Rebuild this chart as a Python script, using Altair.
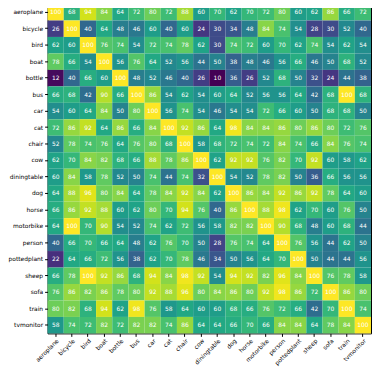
import altair as alt
import pandas as pd

classes = ["aeroplane", "bicycle", "bird", "boat", "bottle", "bus", "car", "cat",
           "chair", "cow", "diningtable", "dog", "horse", "motorbike", "person",
           "pottedplant", "sheep", "sofa", "train", "tvmonitor"]

r_aeroplane = [100, 68, 94, 84, 64, 72, 80, 72, 88, 60, 70, 62, 70, 72, 80, 60, 62, 86, 66, 72]
r_bicycle = [26, 100, 40, 64, 48, 46, 60, 40, 60, 24, 30, 34, 48, 84, 74, 54, 28, 30, 52, 40]
r_bird = [62, 60, 100, 76, 74, 54, 72, 74, 78, 62, 30, 74, 72, 60, 70, 62, 74, 54, 62, 54]
r_boat = [78, 66, 54, 100, 56, 76, 64, 52, 56, 44, 50, 38, 48, 46, 56, 66, 46, 50, 68, 52]
r_bottle = [12, 40, 66, 60, 100, 48, 52, 46, 40, 26, 10, 36, 26, 52, 68, 50, 32, 24, 44, 38]
r_bus = [66, 68, 42, 90, 66, 100, 86, 54, 62, 54, 60, 64, 52, 56, 56, 64, 42, 68, 100, 68]
r_car = [54, 60, 64, 84, 50, 80, 100, 56, 74, 54, 46, 54, 54, 72, 66, 60, 50, 68, 68, 50]
r_cat = [72, 86, 92, 64, 86, 66, 84, 100, 92, 86, 64, 98, 84, 84, 86, 80, 86, 80, 72, 76]
r_chair = [52, 78, 74, 76, 64, 76, 80, 68, 100, 58, 68, 72, 74, 72, 84, 74, 66, 84, 76, 74]
r_cow = [62, 70, 84, 82, 68, 66, 88, 78, 86, 100, 62, 92, 92, 76, 82, 70, 92, 60, 58, 62]
r_diningtable = [60, 84, 58, 78, 52, 50, 74, 44, 74, 32, 100, 54, 52, 78, 82, 50, 36, 66, 56, 56]
r_dog = [64, 88, 96, 80, 84, 64, 78, 84, 92, 84, 62, 100, 86, 84, 92, 86, 92, 78, 64, 60]
r_horse = [66, 86, 92, 88, 60, 62, 80, 70, 94, 76, 40, 86, 100, 88, 98, 62, 70, 60, 76, 50]
r_motorbike = [64, 100, 70, 90, 54, 52, 74, 62, 72, 56, 58, 82, 82, 100, 90, 68, 48, 60, 68, 44]
r_person = [40, 66, 70, 66, 64, 48, 62, 76, 70, 50, 28, 76, 74, 64, 100, 76, 56, 44, 62, 50]
r_pottedplant = [22, 64, 66, 72, 56, 38, 62, 70, 78, 46, 34, 50, 56, 64, 70, 100, 50, 44, 44, 56]
r_sheep = [66, 78, 100, 92, 86, 68, 94, 84, 98, 92, 54, 94, 92, 82, 96, 84, 100, 76, 78, 58]
r_sofa = [76, 86, 82, 86, 78, 80, 92, 88, 96, 80, 84, 86, 80, 92, 98, 86, 72, 100, 86, 80]
r_train = [80, 82, 68, 94, 62, 98, 76, 58, 64, 60, 60, 68, 66, 76, 72, 66, 42, 70, 100, 74]
r_tvmonitor = [58, 74, 72, 82, 72, 82, 82, 74, 86, 64, 64, 66, 70, 66, 84, 84, 64, 78, 84, 100]

rows = [r_aeroplane, r_bicycle, r_bird, r_boat, r_bottle, r_bus, r_car, r_cat, r_chair,
        r_cow, r_diningtable, r_dog, r_horse, r_motorbike, r_person, r_pottedplant,
        r_sheep, r_sofa, r_train, r_tvmonitor]

records = []
for i, rname in enumerate(classes):
    for j, cname in enumerate(classes):
        records.append({"row": rname, "col": cname, "value": rows[i][j]})
df = pd.DataFrame(records)

FONT = "DejaVu Sans"

x = alt.X("col:N", sort=classes,
          scale=alt.Scale(paddingInner=0, paddingOuter=0),
          axis=alt.Axis(title=None, labelAngle=-45, labelAlign="right", labelBaseline="top",
                        labelFontSize=6, labelFont=FONT, labelColor="black",
                        tickColor="black", tickSize=3, domain=False, labelPadding=1))
y = alt.Y("row:N", sort=classes,
          scale=alt.Scale(paddingInner=0, paddingOuter=0),
          axis=alt.Axis(title=None, labelFontSize=6, labelFont=FONT, labelColor="black",
                        tickColor="black", tickSize=3, domain=False, labelPadding=2))

base = alt.Chart(df)
rect = base.mark_rect().encode(
    x=x, y=y,
    color=alt.Color("value:Q", scale=alt.Scale(scheme="viridis", domain=[10, 100]), legend=None),
)
text = base.mark_text(color="white", fontSize=6, font=FONT).encode(
    x=alt.X("col:N", sort=classes), y=alt.Y("row:N", sort=classes),
    text="value:Q",
)

chart = (rect + text).properties(
    width=327, height=333,
    padding={"left": 0, "top": -6, "right": 0, "bottom": 0}
).configure_view(stroke="black", strokeWidth=1)

chart.save("out.html", embed_options={"renderer": "svg", "actions": False})
